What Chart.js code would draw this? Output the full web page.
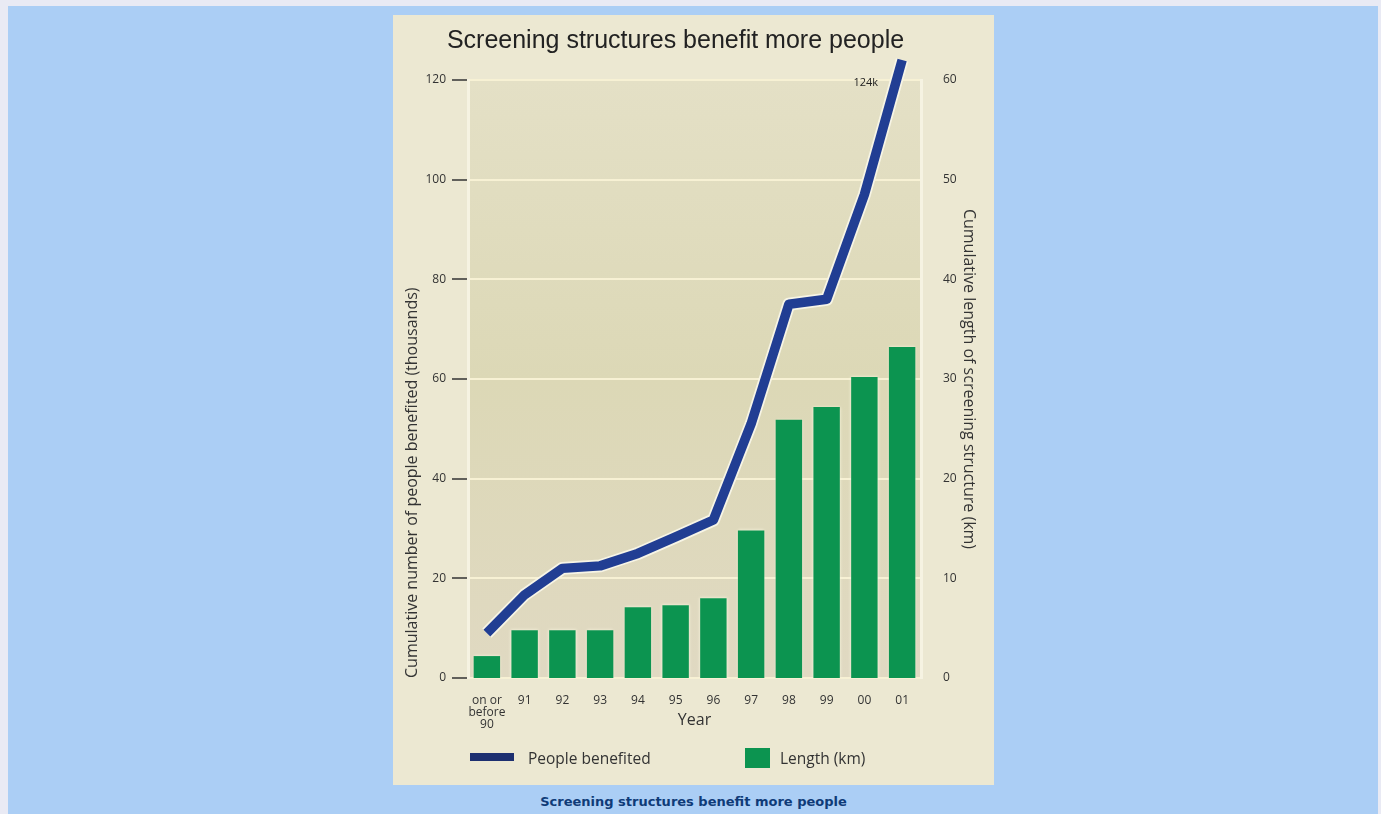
<!DOCTYPE html>
<html>
<head>
<meta charset="utf-8">
<script src="https://cdn.jsdelivr.net/npm/chart.js@4.4.1/dist/chart.umd.min.js"></script>
<style>
  body { margin: 0; background: #e9eaf4; width: 1381px; height: 814px; overflow: hidden; position: relative; }
  #panel { position: absolute; left: 8px; top: 6px; width: 1370px; height: 808px; background: #abcef5; }
  #box { position: absolute; left: 393px; top: 15px; width: 601px; height: 770px; background: #ece8d2; }
  #title { position: absolute; left: 0; top: 10px; width: 565px; text-align: center; line-height: 32px;
           font: 25px "Liberation Sans", Arial, sans-serif; color: #222; }
  .lg { position: absolute; top: 732px; line-height: 20px; font: 15.5px "Open Sans", sans-serif; color: #333; }
  #caption { position: absolute; left: 393px; top: 794px; width: 601px; text-align: center;
             font: bold 13px "DejaVu Sans", Verdana, sans-serif; color: #0f3b78; }
</style>
</head>
<body>
<div id="panel"></div>
<div id="box">
  <canvas id="chartScreening"></canvas>
  <div id="title">Screening structures benefit more people</div>
  <div style="position:absolute;left:77px;top:738px;width:44px;height:8px;background:#1d2f70;"></div>
  <div class="lg" style="left:135px;">People benefited</div>
  <div style="position:absolute;left:352px;top:733px;width:25px;height:20px;background:#0c9450;"></div>
  <div class="lg" style="left:387px;">Length (km)</div>
</div>
<div id="caption">Screening structures benefit more people</div>
<script>
// Datos
const categories = [['on or', 'before', '90'], '91', '92', '93', '94', '95', '96', '97', '98', '99', '00', '01'];
const peopleThousands = [9, 16.7, 22, 22.5, 25, 28.3, 31.7, 51, 75, 76, 97, 124];
const lengthKm = [2.2, 4.8, 4.8, 4.8, 7.1, 7.3, 8.0, 14.8, 25.9, 27.2, 30.2, 33.2];
const peopleTicks = [0, 20, 40, 60, 80, 100, 120];
const lengthTicks = [0, 10, 20, 30, 40, 50, 60];
const lastLabel = '124k';

// fondo del area del grafico
const plotBackground = {
  id: 'plotBackground',
  beforeDraw(chart) {
    const { ctx, chartArea: a } = chart;
    const g = ctx.createLinearGradient(0, a.top, 0, a.bottom);
    g.addColorStop(0, '#e4e0c6');
    g.addColorStop(0.5, '#dcd8b6');
    g.addColorStop(1, '#e0d9c2');
    ctx.save();
    ctx.fillStyle = g;
    ctx.fillRect(a.left, a.top, a.right - a.left, a.bottom - a.top);
    ctx.restore();
  }
};

// halo claro alrededor de la linea y las barras
const halo = {
  id: 'halo',
  beforeDatasetDraw(chart, args) {
    const ctx = chart.ctx;
    ctx.save();
    if (args.meta.type === 'line') {
      const pts = args.meta.data;
      ctx.beginPath();
      pts.forEach((p, i) => i ? ctx.lineTo(p.x, p.y) : ctx.moveTo(p.x, p.y));
      ctx.strokeStyle = '#f7f5e6';
      ctx.lineWidth = 13;
      ctx.lineJoin = 'round';
      ctx.stroke();
    } else {
      ctx.shadowColor = 'rgba(250,248,225,1)';
      ctx.shadowBlur = 3;
    }
  },
  afterDatasetDraw(chart) {
    chart.ctx.restore();
  },
  afterDatasetsDraw(chart) {
    const meta = chart.getDatasetMeta(0);
    const p = meta.data[meta.data.length - 1];
    const ctx = chart.ctx;
    ctx.save();
    ctx.font = '11px "Open Sans", sans-serif';
    ctx.fillStyle = '#222';
    ctx.textAlign = 'right';
    ctx.textBaseline = 'middle';
    ctx.fillText(lastLabel, p.x - 24, chart.chartArea.top + 3);
    ctx.restore();
  }
};

const ctx = document.getElementById('chartScreening').getContext('2d');

const chartScreening = new Chart(ctx, {
  data: {
    labels: categories,
    datasets: [{
      type: 'line',
      label: 'People benefited',
      data: peopleThousands,
      yAxisID: 'y',
      borderColor: '#213e93',
      borderWidth: 9.5,
      borderJoinStyle: 'round',
      pointRadius: 0,
      tension: 0,
      clip: false,
      order: 0
    }, {
      type: 'bar',
      label: 'Length (km)',
      data: lengthKm,
      yAxisID: 'y1',
      backgroundColor: '#0c9450',
      barPercentage: 0.7,
      categoryPercentage: 1.0,
      order: 1
    }]
  },
  options: {
    responsive: true,
    maintainAspectRatio: false,
    animation: false,
    layout: { padding: { top: 65, left: 0, right: 0, bottom: 45 } },
    plugins: {
      legend: { display: false },
      tooltip: { enabled: false }
    },
    scales: {
      x: {
        grid: { display: false },
        border: { display: false },
        ticks: {
          color: '#333', padding: 9, autoSkip: false, maxRotation: 0,
          font: { family: '"Open Sans", sans-serif', size: 12, lineHeight: 1.0 }
        },
        title: {
          display: true, text: 'Year', color: '#333',
          font: { family: '"Open Sans", sans-serif', size: 16, lineHeight: 1.2 },
          padding: { top: 0, bottom: 10 }
        },
        afterFit(scale) { scale.height = 62; }
      },
      y: {
        position: 'left',
        min: 0, max: 120,
        afterBuildTicks(scale) { scale.ticks = peopleTicks.map(v => ({ value: v })); },
        grid: { color: '#f7f1d4', lineWidth: 2, tickColor: '#333', tickLength: 16, tickWidth: 1.5 },
        border: { color: '#f6f3e2', width: 3 },
        ticks: { color: '#333', padding: 6, font: { family: '"Open Sans", sans-serif', size: 12 } },
        title: {
          display: true, align: 'start',
          text: 'Cumulative number of people benefited (thousands)', color: '#333',
          font: { family: '"Open Sans", sans-serif', size: 16, lineHeight: 1.2 },
          padding: { top: 10, bottom: 0 }
        },
        afterFit(scale) { scale.width = 75; }
      },
      y1: {
        position: 'right',
        min: 0, max: 60,
        afterBuildTicks(scale) { scale.ticks = lengthTicks.map(v => ({ value: v })); },
        grid: { display: false },
        border: { color: '#f6f3e2', width: 3 },
        ticks: { color: '#333', padding: 14, font: { family: '"Open Sans", sans-serif', size: 12 } },
        title: {
          display: true,
          text: 'Cumulative length of screening structure (km)', color: '#333',
          font: { family: '"Open Sans", sans-serif', size: 16, lineHeight: 1.2 },
          padding: { top: 16, bottom: 0 }
        },
        afterFit(scale) { scale.width = 73; }
      }
    }
  },
  plugins: [plotBackground, halo]
});
</script>
</body>
</html>
